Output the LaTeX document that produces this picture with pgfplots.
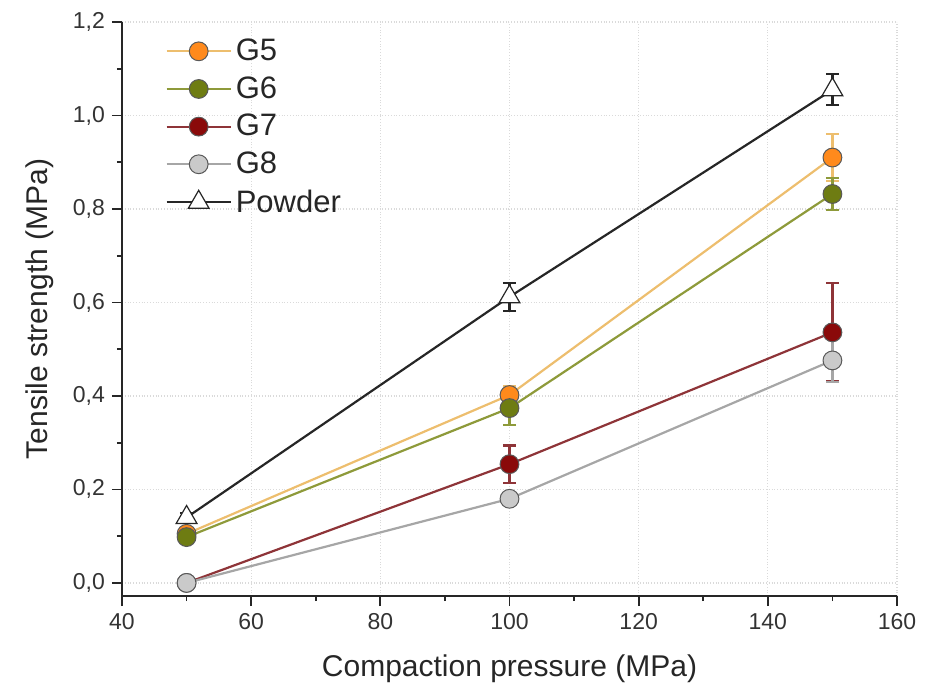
\documentclass[border=0pt]{standalone}
\usepackage{fontspec}
\setmainfont{Liberation Sans}
\setsansfont{Liberation Sans}
\usepackage{pgfplots}
\pgfplotsset{compat=1.18}

\definecolor{gfiveL}{HTML}{EDBE6E}
\definecolor{gfiveM}{HTML}{FF8A1C}
\definecolor{gsixL}{HTML}{8E9A3A}
\definecolor{gsixM}{HTML}{6E7C12}
\definecolor{gsevL}{HTML}{8E3438}
\definecolor{gsevM}{HTML}{8A0A0A}
\definecolor{geightL}{HTML}{A6A6A6}
\definecolor{geightM}{HTML}{CACACA}
\definecolor{gridc}{HTML}{DADADA}

\begin{document}
\begin{tikzpicture}
\begin{axis}[
  scale only axis,
  width=387.5pt, height=287pt,
  xmin=40, xmax=160,
  ymin=-0.028, ymax=1.2,
  axis x line*=bottom, axis y line*=left,
  axis line style={-, line width=0.9pt, black!85},
  xtick={40,60,80,100,120,140,160},
  ytick={0,0.2,0.4,0.6,0.8,1.0,1.2},
  minor x tick num=1, minor y tick num=1,
  tick align=outside,
  major tick length=5pt, minor tick length=2.5pt,
  tick style={line width=0.9pt, black!85},
  ymajorgrids, xmajorgrids,
  major grid style={gridc, densely dotted, line width=0.6pt},
  tick label style={font=\fontsize{11.5}{13}\selectfont, text=black!80},
  /pgf/number format/assume math mode=true,
  yticklabel style={/pgf/number format/.cd, fixed, fixed zerofill, precision=1, use comma},
  xticklabel style={/pgf/number format/.cd, fixed, precision=0},
  label style={font=\fontsize{15}{17}\selectfont, text=black!85},
  xlabel={Compaction pressure (MPa)},
  ylabel={Tensile strength (MPa)},
  xlabel style={yshift=-6pt},
  ylabel style={yshift=3pt},
  legend style={at={(0.048,0.985)}, anchor=north west, draw=none, fill=none,
    font=\fontsize{15.5}{17}\selectfont, row sep=2.5pt, text=black!85},
  legend cell align=left,
  legend image code/.code={
    \draw[mark repeat=2,mark phase=2] plot coordinates {(0pt,0pt)(16pt,0pt)(32pt,0pt)};
  },
  every axis plot/.append style={line width=1.1pt},
  error bars/y dir=both, error bars/y explicit,
  error bars/error mark options={rotate=90, mark size=3.3pt, line width=1.1pt},
]
\addplot[gfiveL, mark=*, mark size=4.7pt, mark options={fill=gfiveM, draw=black!65, line width=0.5pt},
  error bars/error bar style={gfiveL, line width=1.1pt}]
  coordinates {(50,0.105) +- (0,0.01) (100,0.402) +- (0,0.02) (150,0.910) +- (0,0.05)};
\addlegendentry{G5}
\addplot[gsixL, mark=*, mark size=4.7pt, mark options={fill=gsixM, draw=black!65, line width=0.5pt},
  error bars/error bar style={gsixL, line width=1.1pt}]
  coordinates {(50,0.098) +- (0,0.01) (100,0.374) +- (0,0.036) (150,0.832) +- (0,0.035)};
\addlegendentry{G6}
\addplot[gsevL, mark=*, mark size=4.7pt, mark options={fill=gsevM, draw=black!65, line width=0.5pt},
  error bars/error bar style={gsevL, line width=1.1pt}]
  coordinates {(50,0.0) +- (0,0.005) (100,0.254) +- (0,0.04) (150,0.536) +- (0,0.105)};
\addlegendentry{G7}
\addplot[geightL, mark=*, mark size=4.7pt, mark options={fill=geightM, draw=black!65, line width=0.5pt},
  error bars/error bar style={geightL, line width=1.1pt}]
  coordinates {(50,0.0) +- (0,0.005) (100,0.180) +- (0,0.01) (150,0.476) +- (0,0.047)};
\addlegendentry{G8}
\addplot[black!85, mark=triangle*, mark size=6pt, mark options={fill=white, draw=black!85, line width=0.6pt},
  error bars/error bar style={black!85, line width=1.1pt}]
  coordinates {(50,0.140) +- (0,0.01) (100,0.612) +- (0,0.03) (150,1.055) +- (0,0.033)};
\addlegendentry{Powder}
\coordinate (O) at (rel axis cs:0,0);
\end{axis}
\path (O) ++(-61pt,-47.5pt) rectangle ++(467.5pt,345.5pt);
\end{tikzpicture}
\end{document}
